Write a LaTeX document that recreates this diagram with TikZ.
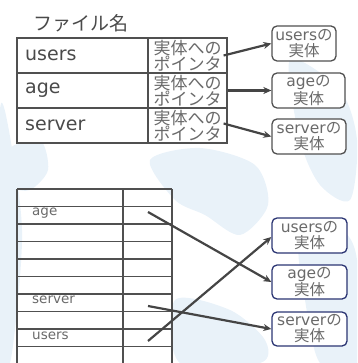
\documentclass[tikz,border=0pt]{standalone}
\usepackage{fontspec}
\setmainfont{DejaVu Sans}
\newfontfamily\jp{Noto Sans CJK JP}
\usetikzlibrary{arrows.meta,calc}
\definecolor{gridc}{HTML}{505050}
\definecolor{txtc}{HTML}{4A4A4A}
\definecolor{ptrc}{HTML}{6A6A6A}
\definecolor{lblc}{HTML}{6A6A6A}
\definecolor{arrc}{HTML}{454545}
\definecolor{navy}{HTML}{2B3573}
\definecolor{wmark}{HTML}{E9F2F9}
\tikzset{
  cellbox/.style={draw=gridc, fill=white, line width=1.2pt, inner sep=0pt, minimum height=35pt},
  namecell/.style={cellbox, minimum width=131pt},
  ptrcell/.style={cellbox, minimum width=79pt, font=\jp\fontsize{17}{16}\selectfont, text=ptrc, align=left},
  nametext/.style={inner sep=0pt, anchor=west, text=txtc, font=\fontsize{19}{22}\selectfont},
  entbox/.style={draw=gridc, fill=white, line width=1.3pt, rounded corners=5pt, inner sep=0pt, minimum height=35pt, align=center, text=ptrc, font=\fontsize{15.5}{16}\selectfont},
  entboxb/.style={entbox, draw=navy},
  ptrarrow/.style={draw=arrc, line width=2.2pt, -{Stealth[length=8pt,width=7pt]}},
  lbltext/.style={inner sep=0pt, anchor=west, text=lblc, font=\fontsize{13.5}{15}\selectfont},
  wm/.style={fill=wmark, draw=none},
}
\begin{document}
\begin{tikzpicture}[x=1pt,y=-1pt]
\useasboundingbox (0,0) rectangle (357,363);
\begin{scope}
\clip (0,0) rectangle (357,363);
% faint watermark
\fill[wm] plot[smooth cycle] coordinates {(0,110) (14,160) (22,230) (18,300) (10,363) (0,363)};
\fill[wm] plot[smooth cycle] coordinates {(8,150) (40,140) (48,170) (30,190) (12,185)};
\fill[wm] plot[smooth cycle] coordinates {(150,160) (200,148) (255,165) (268,205) (240,235) (205,215) (175,200)};
\fill[wm] plot[smooth cycle] coordinates {(290,60) (340,90) (357,140) (350,200) (320,185) (300,140)};
\fill[wm] plot[smooth cycle] coordinates {(300,240) (340,230) (357,260) (357,363) (320,363) (305,300)};
\fill[wm] plot[smooth cycle] coordinates {(175,300) (230,310) (265,340) (260,363) (180,363)};
\end{scope}
% title
\node[inner sep=0pt, anchor=west, text=txtc, font=\jp\fontsize{19}{22}\selectfont] (title) at (33,23) {ファイル名};
% top table
\node[namecell] (n1) at (82.5,55.5) {};
\node[namecell] (n2) at (82.5,90.5) {};
\node[namecell] (n3) at (82.5,125.5) {};
\node[ptrcell] (p1) at (187.5,55.5) {実体への\\ポインタ};
\node[ptrcell] (p2) at (187.5,90.5) {実体への\\ポインタ};
\node[ptrcell] (p3) at (187.5,125.5) {実体への\\ポインタ};
\node[nametext] (t1) at (25,55.5) {users};
\node[nametext] (t2) at (25,90.5) {age};
\node[nametext] (t3) at (25,125.5) {server};
% top entity boxes
\node[entbox, minimum width=64pt] (e1) at (304,43.5) {users{\jp の}\\{\jp 実体}};
\node[entbox, minimum width=73pt] (e2) at (308.5,90.5) {age{\jp の}\\{\jp 実体}};
\node[entbox, minimum width=74pt] (e3) at (309,136.5) {server{\jp の}\\{\jp 実体}};
\coordinate (s1) at ($(p1.east)+(-4,0)$);
\coordinate (s3) at ($(p3.east)+(-4,-2)$);
\draw[ptrarrow] (s1) -- (e1.west);
\draw[ptrarrow] (p2.east) -- (e2.west);
\draw[ptrarrow] (s3) -- (e3.west);
% bottom table grid
\foreach \k in {0,...,9} {
  \draw[gridc, line width=1.2pt] (17,189+17.5*\k) -- (172,189+17.5*\k);
}
\draw[gridc, line width=1.2pt] (17,189) -- (17,363);
\draw[gridc, line width=1.2pt] (123,189) -- (123,363);
\draw[gridc, line width=1.2pt] (172,189) -- (172,363);
\node[lbltext] (la) at (32,213) {age};
\node[lbltext] (ls) at (32,300) {server};
\node[lbltext] (lu) at (32,335.5) {users};
% bottom entity boxes
\node[entboxb, minimum width=75pt] (b1) at (309.5,235.5) {users{\jp の}\\{\jp 実体}};
\node[entboxb, minimum width=75pt, minimum height=34pt] (b2) at (309.5,282) {age{\jp の}\\{\jp 実体}};
\node[entboxb, minimum width=75pt, minimum height=34pt] (b3) at (309.5,329) {server{\jp の}\\{\jp 実体}};
\coordinate (ca) at (148,212);
\coordinate (cs) at (148,306);
\coordinate (cu) at (148,341);
\draw[ptrarrow] (ca) -- (b2.west);
\draw[ptrarrow] (cs) -- (b3.west);
\draw[ptrarrow] (cu) -- ($(b1.west)+(0,1.5)$);
\end{tikzpicture}
\end{document}
